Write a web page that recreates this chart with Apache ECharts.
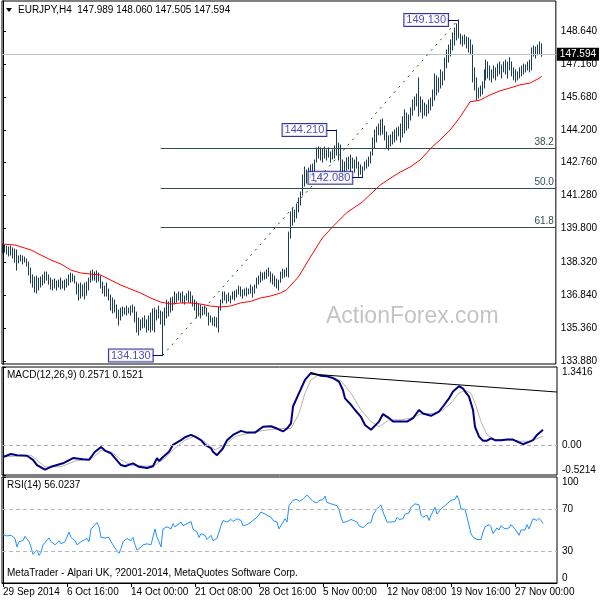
<!DOCTYPE html>
<html><head><meta charset="utf-8">
<script src="https://cdn.jsdelivr.net/npm/echarts@6/dist/echarts.min.js"></script>
<style>html,body{margin:0;padding:0;background:#fff}#c{width:600px;height:600px}</style>
</head><body><div id="c"></div>
<script>
// ---------- data ----------
const barHigh = [
139.11,139.07,139.02,138.98,139.02,138.94,138.89,138.85,138.58,138.62,
138.58,138.53,138.44,138.31,138.04,137.73,137.64,137.68,137.59,137.64,
137.73,137.86,137.86,137.73,137.59,137.50,137.55,137.46,137.50,137.59,
137.46,137.50,137.55,137.73,137.82,137.77,137.68,137.41,137.32,137.37,
137.28,137.37,137.41,137.59,137.91,137.95,137.86,137.91,137.82,137.68,
137.41,137.23,137.37,137.10,136.83,136.70,136.61,136.39,136.16,136.25,
136.30,136.25,136.34,136.25,136.34,136.39,136.30,136.07,135.81,135.72,
135.81,135.90,135.72,135.90,136.03,136.21,136.25,136.16,136.34,136.12,
136.07,136.25,136.61,136.52,136.70,136.74,136.97,136.88,136.97,136.92,
136.97,136.79,136.88,137.01,136.97,136.79,136.61,136.52,136.43,136.39,
136.30,136.34,136.25,136.03,135.90,135.81,135.85,135.81,136.30,136.61,
136.97,136.97,136.83,136.92,136.79,136.97,137.01,137.06,137.23,137.19,
137.06,137.10,137.15,137.10,137.28,137.19,137.28,137.59,137.68,137.86,
137.82,137.86,137.95,138.04,137.86,137.77,137.68,137.55,137.50,137.86,
137.99,137.95,138.04,139.65,140.55,140.72,140.63,140.90,141.17,141.44,
142.20,142.56,142.42,142.51,142.65,142.69,142.87,143.41,143.45,143.41,
143.36,143.45,143.32,143.41,143.23,143.32,143.50,144.21,143.63,143.54,
142.87,142.78,142.96,143.00,143.09,142.96,142.87,143.00,142.78,142.65,
142.56,142.78,142.87,143.00,143.23,143.86,144.21,144.35,144.48,144.66,
144.71,144.39,144.12,143.95,143.99,144.12,144.21,144.30,144.35,144.48,
144.80,145.11,144.97,144.88,145.20,145.55,145.69,145.82,146.54,145.69,
145.55,145.42,145.33,145.55,145.64,146.00,146.72,146.63,146.54,146.90,
146.81,147.43,147.79,148.01,148.24,148.55,148.77,148.95,149.13,148.50,
148.41,148.46,148.37,148.33,148.24,148.01,146.99,146.54,146.09,146.18,
146.36,146.90,147.34,147.25,147.07,146.90,147.07,146.99,147.16,147.25,
147.12,147.25,147.34,147.25,147.43,147.25,146.99,146.90,146.81,146.99,
147.07,147.16,147.12,147.25,147.34,147.88,147.97,147.92,148.01,148.15,148.06];
const barLow = [
138.71,138.76,138.67,138.58,138.62,138.49,138.31,137.95,138.27,138.36,
138.22,138.31,138.13,137.73,137.37,137.19,136.97,136.92,137.06,137.19,
137.28,137.37,137.50,137.32,137.10,137.06,137.15,137.06,137.19,137.10,
137.15,137.06,137.19,137.28,137.41,137.46,137.37,136.88,136.61,136.70,
136.79,136.66,136.83,137.06,137.41,137.50,137.50,137.41,137.46,137.15,
136.92,136.79,136.79,136.61,136.16,136.03,136.07,135.81,135.49,135.72,
135.90,135.99,135.94,136.03,135.94,136.07,135.63,135.18,135.05,135.27,
135.36,135.40,135.18,135.27,135.18,135.27,135.18,135.72,135.81,135.54,
134.13,135.49,135.81,135.90,136.07,136.16,136.43,136.52,136.61,136.52,
136.48,136.43,136.61,136.52,136.48,136.34,136.16,135.81,135.90,135.81,
135.94,135.99,135.90,135.49,135.63,135.49,135.45,135.40,135.18,136.16,
136.48,136.61,136.48,136.57,136.48,136.66,136.61,136.74,136.88,136.79,
136.70,136.83,136.79,136.88,136.92,136.74,136.92,137.15,137.32,137.41,
137.50,137.55,137.59,137.68,137.41,137.32,137.23,137.15,137.06,137.41,
137.59,137.64,137.68,137.64,139.38,139.96,140.10,140.28,140.55,140.86,
141.31,141.71,141.84,141.98,142.07,142.16,142.34,142.78,142.96,142.87,
142.78,142.96,142.87,143.00,142.78,142.92,142.96,143.09,142.87,142.33,
142.20,142.11,142.42,142.47,142.33,142.51,142.33,142.51,142.15,142.24,
142.08,142.42,142.51,142.60,142.74,143.09,143.41,143.68,144.00,143.99,
144.04,143.77,143.41,143.32,143.50,143.59,143.68,143.77,143.95,143.68,
143.90,144.08,144.21,144.30,144.66,144.88,145.11,145.29,144.84,145.02,
144.75,144.88,144.84,144.97,145.11,145.29,145.55,145.78,145.91,146.09,
146.23,146.45,146.99,147.25,147.52,147.79,148.01,148.24,148.33,148.06,
147.97,148.06,147.88,147.70,147.61,146.36,146.00,145.55,145.64,145.73,
145.82,146.09,146.45,146.54,146.45,146.36,146.54,146.45,146.63,146.72,
146.54,146.81,146.72,146.54,146.90,146.63,146.45,146.36,146.45,146.54,
146.63,146.72,146.81,146.90,146.81,146.90,147.52,147.43,147.57,147.61,147.51];

// moving average [bar index, price]
const maLine = [[0,139.11],[6,139.07],[14,138.85],[19,138.62],[24,138.40],[29,138.22],[34,137.95],[39,137.82],[44,137.77],[49,137.73],[54,137.50],[59,137.28],[64,137.10],[69,136.92],[74,136.70],[79,136.52],[84,136.43],[89,136.48],[94,136.48],[99,136.43],[104,136.34],[109,136.30],[114,136.34],[119,136.48],[124,136.55],[129,136.70],[134,136.79],[139,136.92],[142,137.06],[148,137.64],[154,138.53],[160,139.38],[165,139.87],[172,140.50],[180,140.99],[189,141.75],[195,142.11],[199,142.33],[204,142.56],[209,142.87],[215,143.45],[219,143.77],[224,144.21],[229,144.79],[234,145.47],[239,145.55],[244,145.78],[249,145.96],[254,146.09],[259,146.23],[264,146.31],[269,146.54],[270,146.63]];

// MACD main and signal [bar index, value]
const macdMain = [[0,-0.21],[4,-0.16],[7,-0.18],[12,-0.19],[15,-0.26],[17,-0.35],[21,-0.43],[24,-0.38],[27,-0.35],[30,-0.32],[35,-0.23],[36,-0.26],[40,-0.25],[43,-0.26],[46,-0.12],[49,-0.04],[51,-0.10],[54,-0.15],[56,-0.23],[59,-0.35],[61,-0.37],[65,-0.32],[68,-0.38],[72,-0.40],[75,-0.37],[77,-0.23],[78,-0.28],[80,-0.21],[83,-0.12],[85,0.00],[89,0.08],[91,0.13],[94,0.17],[96,0.14],[99,0.08],[101,0.00],[104,-0.06],[105,-0.12],[107,-0.18],[110,-0.06],[112,0.08],[115,0.17],[119,0.24],[122,0.21],[126,0.21],[130,0.31],[134,0.32],[137,0.28],[140,0.23],[142,0.28],[144,0.37],[145,0.66],[148,0.89],[149,0.92],[151,1.12],[154,1.24],[155,1.23],[159,1.19],[162,1.18],[165,1.15],[168,1.09],[170,0.94],[171,0.80],[174,0.69],[176,0.60],[179,0.48],[181,0.34],[184,0.26],[185,0.25],[188,0.40],[190,0.53],[193,0.46],[195,0.40],[199,0.40],[202,0.40],[205,0.46],[208,0.60],[210,0.54],[214,0.50],[215,0.48],[218,0.57],[220,0.66],[223,0.80],[225,0.92],[228,1.01],[230,0.97],[231,0.92],[233,0.83],[235,0.60],[236,0.31],[238,0.14],[240,0.07],[242,0.07],[244,0.11],[246,0.08],[249,0.08],[252,0.09],[255,0.09],[258,0.04],[260,0.01],[263,0.05],[265,0.08],[267,0.17],[270,0.26]];
const macdSignal = [[0,-0.21],[14,-0.18],[21,-0.38],[29,-0.38],[36,-0.28],[44,-0.25],[49,-0.10],[54,-0.12],[59,-0.26],[64,-0.35],[71,-0.37],[76,-0.35],[81,-0.23],[86,-0.06],[91,0.08],[96,0.15],[101,0.05],[106,-0.09],[111,0.00],[116,0.14],[124,0.21],[131,0.25],[139,0.28],[144,0.28],[148,0.54],[149,0.57],[151,0.89],[154,1.12],[158,1.21],[164,1.18],[169,1.10],[174,0.89],[179,0.60],[184,0.40],[188,0.31],[193,0.43],[199,0.43],[204,0.46],[209,0.53],[215,0.54],[220,0.60],[224,0.72],[228,0.89],[231,0.94],[234,0.89],[236,0.72],[239,0.40],[242,0.17],[246,0.09],[254,0.08],[259,0.06],[264,0.06],[270,0.15]];
const macdTrend = [[154,1.22],[277,0.91]];

// RSI(14) [bar index, value]
const rsiLine = [[0,45.6],[2,44.4],[4,45],[6,42],[7,34],[8,39],[10,40],[11,44],[13,39],[14,34],[15,27],[17,31],[18,26],[19,29],[20,36],[21,37],[23,42.5],[24,39],[26,36],[28,40],[29,37],[31,39],[33,48],[34,43],[36,40],[37,36],[39,39],[40,38],[42,42],[43,39],[44,51],[47,57],[48,53],[49,43],[51,42.5],[53,43],[54,39],[56,33],[58,28],[59,32.5],[60,39],[62,42],[64,40],[65,43],[66,36],[67,31],[69,34],[70,36],[72,37],[74,36],[75,36],[76,51],[77,43],[78,39],[79,34],[80,51],[82,53],[84,51],[85,56],[86,53],[87,54],[89,57.5],[90,54],[92,56],[94,58],[95,51],[97,48],[98,43],[99,46.5],[101,45],[102,41],[104,45],[105,40],[107,42],[109,54],[110,59],[112,57.5],[114,60],[115,58],[117,60.6],[119,59],[120,54],[122,55],[124,57.5],[125,59],[127,62],[129,67],[130,68],[132,64],[134,62],[135,59],[137,57.5],[138,51],[140,57.5],[141,60.6],[142,57.5],[143,73],[145,78],[147,79],[148,77],[149,78.75],[150,79],[152,83],[153,82.5],[155,77],[157,75.6],[158,77.8],[160,78.75],[161,82],[162,76],[164,74.7],[165,73.75],[167,73],[168,69.4],[169,62],[170,57],[172,58],[174,60],[175,59],[177,57.5],[178,54],[179,55],[180,52],[182,56],[184,57],[185,64],[187,70],[189,73.75],[190,67],[192,57.5],[193,56],[194,57.5],[196,58],[197,62],[198,60],[200,60.6],[201,65],[203,66],[204,71.5],[206,74.7],[208,73.75],[209,64],[210,62],[212,64],[213,59],[214,64],[216,71.5],[217,65],[219,70],[221,73],[224,78],[226,79],[227,82.5],[228,78],[229,70],[231,69.4],[232,62],[234,46.6],[235,43.4],[237,41],[239,41],[240,48],[241,53],[243,55],[244,53],[245,46.6],[247,52],[248,50],[249,54],[251,51],[253,52],[254,55],[256,51],[258,45],[259,50],[261,50],[262,55],[263,51],[265,60.6],[267,59],[268,61],[269,59],[270,56]];

const priceTicks = [133.88,135.36,136.84,138.32,139.80,141.28,142.76,144.20,145.68,147.16,148.64];
const macdTicks = [-0.5214,0,1.3416];
const rsiTicks = [0,30,70,100];
const rsiLevels = [30,70];
const timeTickIdx = [0,32,64,96,128,160,192,224,256];
const timeTickLabels = ['29 Sep 2014','6 Oct 16:00','14 Oct 00:00','21 Oct 08:00','28 Oct 16:00','5 Nov 00:00','12 Nov 08:00','19 Nov 16:00','27 Nov 00:00'];

const swingLow = [80,134.13], swingHigh = [228,149.13];
const fibLevels = [38.2,50.0,61.8];
const lastPrice = 147.594;
const callouts = [[80,134.13],[167,144.21],[180,142.08],[228,149.13]];

// ---------- chart ----------
const FONT = 'Liberation Sans, Arial, sans-serif';
const X_MIN = -0.5, X_MAX = 277;
const BAR_C = '#1a3d55';
const chart = echarts.init(document.getElementById('c'), null, {renderer:'canvas'});

const fibMarks = fibLevels.map(p => {
  const v = swingHigh[1] - (swingHigh[1]-swingLow[1])*p/100;
  return [{coord:[swingLow[0]-1, v], lineStyle:{color:'#2f4f4f',width:1,type:'solid'},
           label:{show:true, position:'insideEndTop', formatter:p.toFixed(1), color:'#2f4f4f', fontSize:10, fontFamily:FONT, distance:[2,1]}},
          {coord:[X_MAX, v]}];
});
const connectorMarks = callouts.map(([i,p]) => [
  {coord:[i-5, p], lineStyle:{color:'#000080',width:1,type:'solid'}, label:{show:false}},
  {coord:[i, p]}]);

const xAx = g => ({type:'value', gridIndex:g, min:X_MIN, max:X_MAX, show:true,
  axisLine:{show:g===2, lineStyle:{color:'#000'}},
  axisTick:{show:g===2, customValues:timeTickIdx, length:4, lineStyle:{color:'#000'}},
  axisLabel:{show:g===2, customValues:timeTickIdx, align:'left', margin:4, fontSize:10, fontFamily:FONT, color:'#000',
    formatter: v => timeTickLabels[timeTickIdx.indexOf(Math.round(v))] || ''},
  splitLine:{show:false}});

const yCommon = {position:'right', axisLine:{show:true, lineStyle:{color:'#000'}}, splitLine:{show:false}};

chart.setOption({
  animation:false,
  grid:[
    {left:2, right:43, top:1, height:363, show:true, borderColor:'#000', borderWidth:1},
    {left:2, right:43, top:367, height:108, show:true, borderColor:'#000', borderWidth:1},
    {left:2, right:43, top:477, height:106, show:true, borderColor:'#000', borderWidth:1}
  ],
  xAxis:[xAx(0), xAx(1), xAx(2)],
  yAxis:[
    Object.assign({type:'value', gridIndex:0, min:133.75, max:149.98,
      axisTick:{show:true, customValues:priceTicks, length:3, lineStyle:{color:'#000'}},
      axisLabel:{customValues:priceTicks, formatter:v=>v.toFixed(3), margin:5, fontSize:10, fontFamily:FONT, color:'#000'}}, yCommon),
    Object.assign({type:'value', gridIndex:1, min:-0.5214, max:1.3416,
      axisTick:{show:true, customValues:macdTicks, length:3, lineStyle:{color:'#000'}},
      axisLabel:{customValues:macdTicks, formatter:v=>Math.abs(v)<1e-9?'0.00':v.toFixed(4), margin:5, fontSize:10, fontFamily:FONT, color:'#000',
        verticalAlignMinLabel:'bottom', verticalAlignMaxLabel:'top'}}, yCommon),
    Object.assign({type:'value', gridIndex:2, min:0, max:100,
      axisTick:{show:true, customValues:rsiTicks, length:3, lineStyle:{color:'#000'}},
      axisLabel:{customValues:rsiTicks, formatter:v=>String(Math.round(v)), margin:5, fontSize:10, fontFamily:FONT, color:'#000',
        verticalAlignMinLabel:'bottom', verticalAlignMaxLabel:'top'}}, yCommon)
  ],
  series:[
    {type:'custom', xAxisIndex:0, yAxisIndex:0, silent:true, clip:true,
     data: barHigh.map((h,i)=>[i, barLow[i], h]),
     encode:{x:0, y:[1,2]},
     renderItem:(params, api)=>{
       const lo = api.coord([api.value(0), api.value(1)]);
       const hi = api.coord([api.value(0), api.value(2)]);
       const x = Math.floor(lo[0]) + 0.5;
       return {type:'line', shape:{x1:x, y1:lo[1]+0.5, x2:x, y2:hi[1]-0.5}, style:{stroke:BAR_C, lineWidth:1}};
     }},
    {type:'line', xAxisIndex:0, yAxisIndex:0, data:maLine, showSymbol:false, symbol:'none', silent:true,
     lineStyle:{color:'#ff0000', width:1},
     markLine:{silent:true, symbol:['none','none'], animation:false,
       data:[
         ...fibMarks,
         [{coord:[X_MIN,lastPrice], lineStyle:{color:'#c0c0c0',width:1,type:'solid'},
           label:{show:true, position:'end', formatter:lastPrice.toFixed(3), distance:1, color:'#fff', backgroundColor:'#000',
                  padding:[2,3,1,3], fontSize:10, fontFamily:FONT}},
          {coord:[X_MAX,lastPrice]}],
         [{coord:swingLow, lineStyle:{color:'#006400',width:1,type:[2,5]}, label:{show:false}}, {coord:swingHigh}],
         ...connectorMarks
       ]}},
    {type:'scatter', xAxisIndex:0, yAxisIndex:0, silent:true, symbolSize:0,
     data: callouts.map(([i,p])=>[i-5,p]),
     label:{show:true, position:'left', distance:0, formatter:pr=>pr.value[1].toFixed(3),
       color:'#2020a8', backgroundColor:'#fff', borderColor:'#000080', borderWidth:1, padding:[1,2,0,2],
       fontSize:11, fontFamily:FONT}},
    {type:'line', xAxisIndex:1, yAxisIndex:1, data:macdSignal, symbol:'none', silent:true, lineStyle:{color:'#b4b4b4', width:1}},
    {type:'line', xAxisIndex:1, yAxisIndex:1, data:macdMain, symbol:'none', silent:true, lineStyle:{color:'#000080', width:2},
     markLine:{silent:true, symbol:['none','none'], label:{show:false},
       data:[
         [{coord:[X_MIN,0], lineStyle:{color:'#b0b0b0',width:1,type:[4,3]}}, {coord:[X_MAX,0]}],
         [{coord:macdTrend[0], lineStyle:{color:'#000',width:1,type:'solid'}}, {coord:macdTrend[1]}]
       ]}},
    {type:'line', xAxisIndex:2, yAxisIndex:2, data:rsiLine, symbol:'none', silent:true, lineStyle:{color:'#1e90ff', width:1},
     markLine:{silent:true, symbol:['none','none'], label:{show:false},
       data: rsiLevels.map(v=>[{coord:[X_MIN,v], lineStyle:{color:'#b8b8b8',width:1,type:[4,3]}},{coord:[X_MAX,v]}])}}
  ],
  graphic:[
    {type:'text', left:326, top:305, z:-1, silent:true, style:{text:'ActionForex.com', fontSize:23, fontFamily:FONT, fill:'#c4c4c4'}},
    {type:'polygon', silent:true, shape:{points:[[6,8],[12,8],[9,12]]}, style:{fill:'#000'}},
    {type:'text', left:18, top:5, silent:true, style:{text:'EURJPY,H4  147.989 148.060 147.505 147.594', fontSize:10, fontFamily:FONT, fill:'#000'}},
    {type:'text', left:7, top:370, silent:true, style:{text:'MACD(12,26,9) 0.2571 0.1521', fontSize:10, fontFamily:FONT, fill:'#000'}},
    {type:'text', left:7, top:480, silent:true, style:{text:'RSI(14) 56.0237', fontSize:10, fontFamily:FONT, fill:'#000'}},
    {type:'text', left:7, top:568, silent:true, style:{text:'MetaTrader - Alpari UK, ?2001-2014, MetaQuotes Software Corp.', fontSize:10, fontFamily:FONT, fill:'#000'}}
  ]
});
</script></body></html>
